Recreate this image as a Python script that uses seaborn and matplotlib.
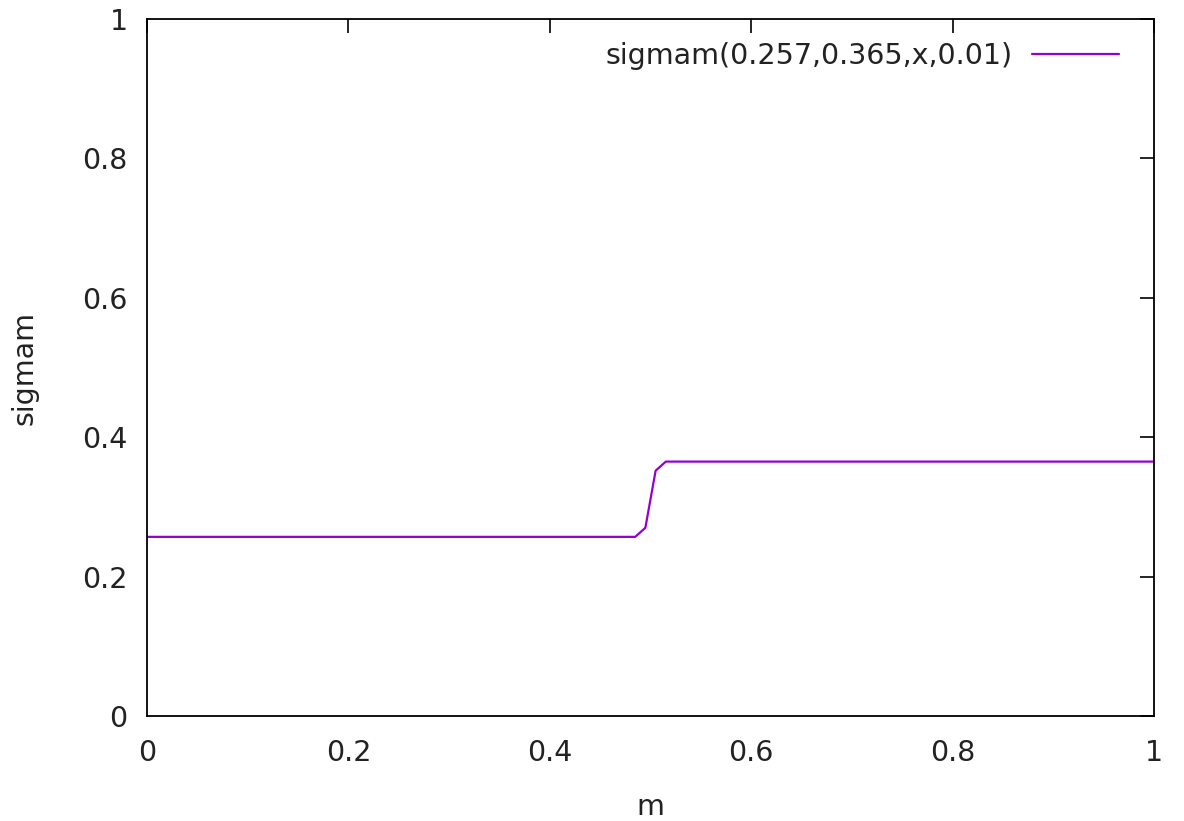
import matplotlib
matplotlib.use("Agg")
import matplotlib.pyplot as plt
import seaborn as sns
import pandas as pd

m_values = [0.0, 0.4848, 0.4949, 0.5051, 0.5152, 1.0]
sigmam_values = [0.257, 0.257, 0.270, 0.352, 0.365, 0.365]
series_label = "sigmam(0.257,0.365,x,0.01)"
x_ticks = [0, 0.2, 0.4, 0.6, 0.8, 1]
x_tick_labels = ["0", "0.2", "0.4", "0.6", "0.8", "1"]
y_ticks = [0, 0.2, 0.4, 0.6, 0.8, 1]
y_tick_labels = ["0", "0.2", "0.4", "0.6", "0.8", "1"]

sns.set_style("white")
plt.rcParams['font.family'] = ['DejaVu Sans']

df = pd.DataFrame({"m": m_values, "sigmam": sigmam_values})

fig = plt.figure(figsize=(11.84, 8.21), dpi=100)
ax = fig.add_axes([147/1184, 1-716/821, (1154-147)/1184, (716-19)/821])

sns.lineplot(data=df, x="m", y="sigmam", ax=ax, color="#9400D3",
             linewidth=1.6, label=series_label)

ax.set_xlim(0, 1)
ax.set_ylim(0, 1)
ax.set_xticks(x_ticks)
ax.set_xticklabels(x_tick_labels)
ax.set_yticks(y_ticks)
ax.set_yticklabels(y_tick_labels)

fs = 20.5
for s in ax.spines.values():
    s.set_visible(True)
    s.set_color("black")
    s.set_linewidth(1.3)
ax.tick_params(direction="in", length=10, width=1.2, color="black",
               top=True, right=True, labelsize=fs, labelcolor="#222222")
ax.tick_params(axis="x", pad=16.5)
ax.tick_params(axis="y", pad=14)

ax.set_xlabel("m", fontsize=fs, color="#222222", labelpad=19)
ax.set_ylabel("sigmam", fontsize=fs, color="#222222", labelpad=31)

leg = ax.legend(loc="center right", bbox_to_anchor=((1119-147)/1007, (716-56)/697),
                frameon=False, markerfirst=False, fontsize=fs, handlelength=3.05,
                handletextpad=0.67, borderpad=0, borderaxespad=0)
for t in leg.get_texts():
    t.set_color("#222222")

fig.savefig("out.png", dpi=100)
